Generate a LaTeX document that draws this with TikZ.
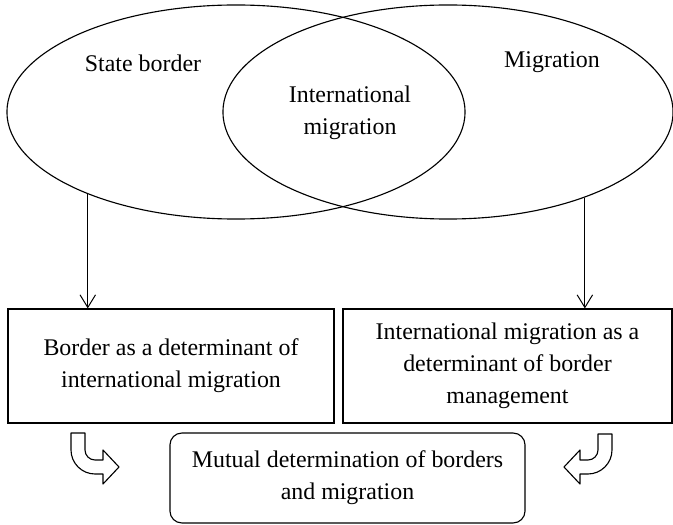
\documentclass[tikz,border=0pt]{standalone}
\usepackage{fontspec}
\setmainfont{Liberation Serif}
\usetikzlibrary{positioning, arrows.meta, shapes.geometric}

\begin{document}
\begin{tikzpicture}[x=0.025cm, y=-0.025cm,
    % Styles
    every node/.style={font=\fontsize{17}{22.7}\selectfont},
    region/.style={draw, ellipse, line width=0.8pt, inner sep=0pt},
    factor/.style={draw, rectangle, line width=0.8pt, minimum height=2.85cm, align=center},
    outcome/.style={draw, rectangle, rounded corners=0.3cm, line width=0.8pt, minimum width=8.875cm, minimum height=2.25cm, align=center},
    link/.style={-{Straight Barb[length=9pt, width=11pt]}, line width=0.7pt},
    turn/.style={draw, line width=0.8pt, line join=round},
]
\useasboundingbox (0,0) rectangle (673,525);

% Overlapping fields
\node[region, minimum width=11.45cm, minimum height=5.35cm] (border) at (236,112) {};
\node[region, minimum width=11.25cm, minimum height=5.35cm] (migr) at (448,112) {};
\node (borderlabel) at (143,63) {State border};
\node (migrlabel) at (552,62) {Migration};
\node[align=center] (overlap) at (350,113) {International\\migration};

% Determinants
\node[factor, minimum width=8.15cm] (left) at (171,366) {Border as a determinant of\\international migration};
\node[factor, minimum width=8.225cm] (right) at (507.5,366) {International migration as a\\determinant of border\\management};
\draw[link] (border.209) -- (border.209 |- left.north);
\draw[link] (migr.-32) -- (migr.-32 |- right.north);

% Result
\node[outcome] (mutual) at (347.5,478) {Mutual determination of borders\\and migration};

% Turning arrows
\draw[turn] (71,433) -- (71,450) .. controls (71,463.2) and (81.8,474) .. (95,474) -- (103,474) -- (103,484) -- (119,467) -- (103,450) -- (103,460) -- (95,460) .. controls (89.5,460) and (85,455.5) .. (85,450) -- (85,433) -- cycle;
\draw[turn] (612,434) -- (612,450) .. controls (612,463.2) and (601.2,474) .. (588,474) -- (580,474) -- (580,484) -- (564,467) -- (580,450) -- (580,460) -- (588,460) .. controls (593.5,460) and (598,455.5) .. (598,450) -- (598,434) -- cycle;

\end{tikzpicture}
\end{document}
